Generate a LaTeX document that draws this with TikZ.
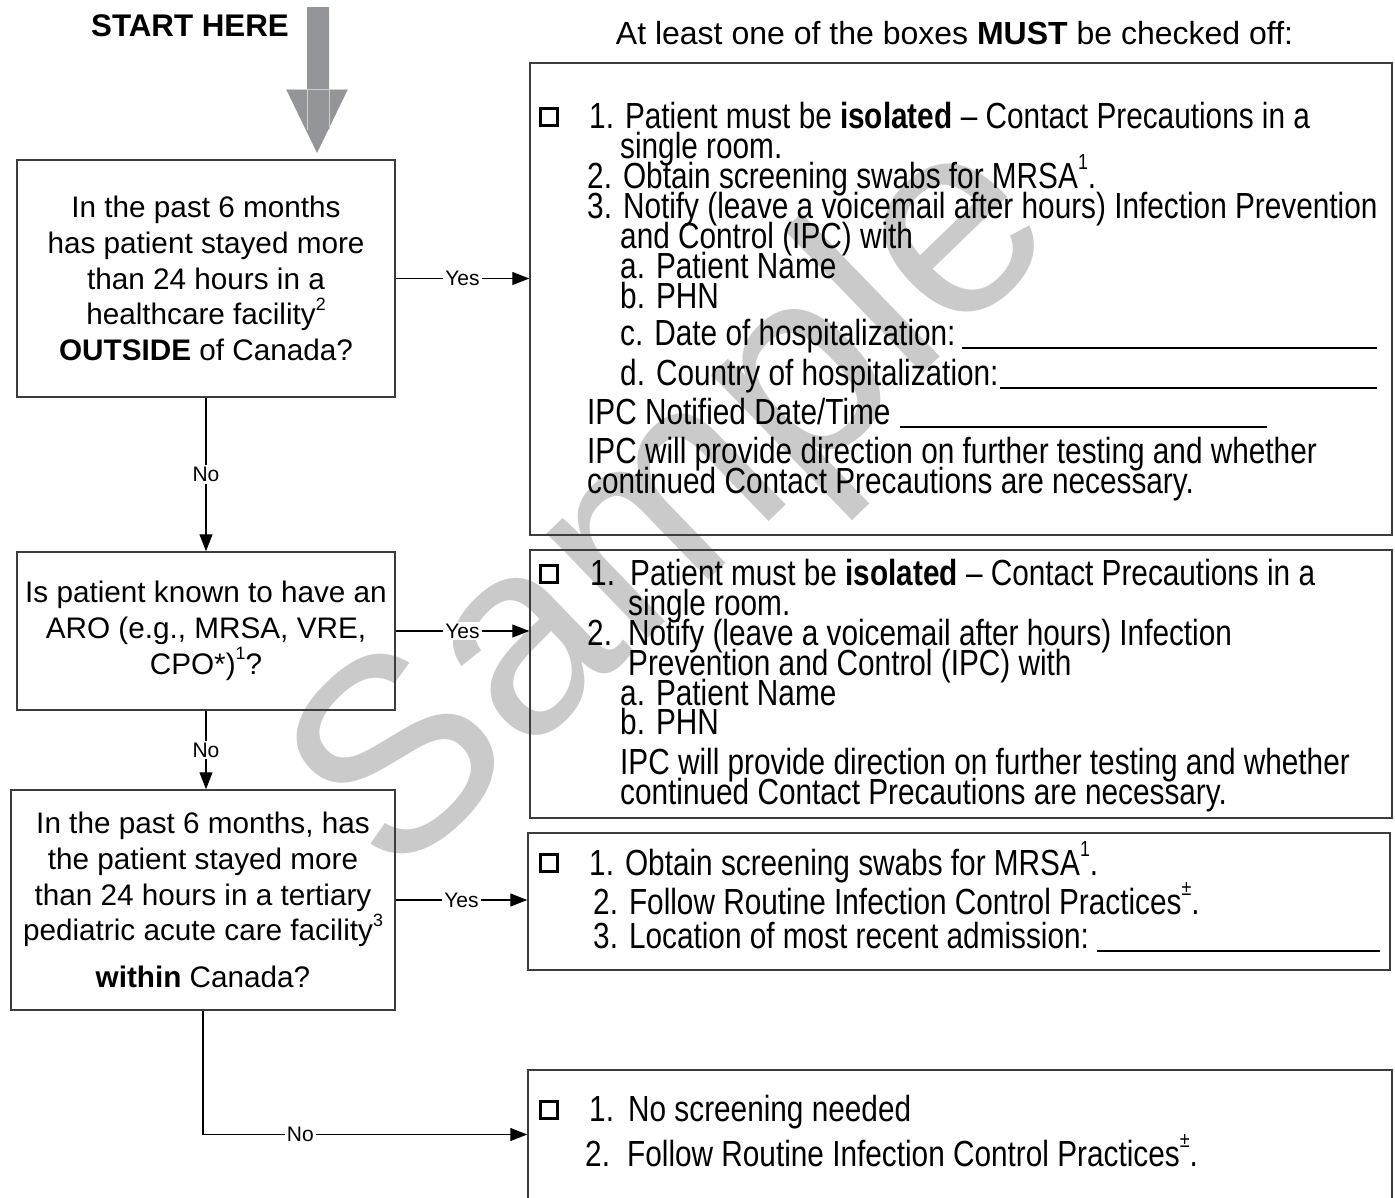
\documentclass[tikz,border=0pt]{standalone}
\usepackage{fontspec}
\usepackage{graphicx}
\setmainfont{Liberation Sans}
\newfontfamily\narrowfont[FakeStretch=0.82]{Liberation Sans}
\usetikzlibrary{arrows.meta}
\definecolor{boxgray}{RGB}{60,60,60}
\definecolor{startgray}{RGB}{147,149,152}
\definecolor{wmgray}{RGB}{202,202,202}
\newcommand{\upsc}[1]{\raisebox{0.5em}{\scalebox{0.6}{#1}}}
\begin{document}
\begin{tikzpicture}[x=1pt,y=-1pt,
  qbox/.style={draw=boxgray, line width=1.5pt, align=center, inner sep=0pt,
    font=\fontsize{29.7}{35.8}\selectfont},
  abox/.style={draw=boxgray, line width=1.5pt, inner sep=0pt},
  conn/.style={draw=black, line width=1.2pt, -{Triangle[length=17pt,width=13pt]}},
  lab/.style={fill=white, inner sep=2pt, font=\fontsize{21}{21}\selectfont},
  txt/.style={anchor=base west, inner sep=0pt, font=\narrowfont\fontsize{36.3}{30}\selectfont},
  chk/.style={draw=black, line width=3pt, minimum width=17pt, minimum height=17pt, inner sep=0pt, outer sep=0pt},
  uline/.style={line width=1.5pt}
]
\useasboundingbox (0,0) rectangle (1395,1197);
\clip (0,0) rectangle (1395,1197);

% watermark
\node[rotate=44, text=wmgray, inner sep=0pt, font=\fontsize{275}{275}\selectfont] (wm) at (679,510) {Sample};

% start
\node[font=\bfseries\fontsize{31.3}{31}\selectfont, inner sep=0pt] (start) at (190,26) {START HERE};
\fill[startgray] (307,7) -- (329,7) -- (329,89) -- (348,89) -- (317,153) -- (286,89) -- (307,89) -- cycle;
\draw[white!55!startgray, line width=0.8pt] (286,89) -- (348,89) (307,89) -- (307,130) (329,89) -- (329,130);

\node[font=\fontsize{32}{32}\selectfont, inner sep=0pt] (hdr) at (954.5,33) {At least one of the boxes \textbf{MUST} be checked off:};

% question boxes
\node[qbox, minimum width=378pt, minimum height=237pt] (q1) at (206,278.5)
  {In the past 6 months\\has patient stayed more\\than 24 hours in a\\healthcare facility\upsc{2}\\\textbf{OUTSIDE} of Canada?};
\node[qbox, minimum width=378pt, minimum height=158pt] (q2) at (206,631)
  {Is patient known to have an\\ARO (e.g., MRSA, VRE,\\CPO*)\upsc{1}?};
\node[qbox, minimum width=384pt, minimum height=220pt] (q3) at (203,900)
  {In the past 6 months, has\\the patient stayed more\\than 24 hours in a tertiary\\pediatric acute care facility\upsc{3}\\[11pt]\textbf{within} Canada?};

% answer boxes
\node[abox, minimum width=862pt, minimum height=472pt] (A) at (961,299) {};
\node[abox, minimum width=862pt, minimum height=268pt] (B) at (961,684) {};
\node[abox, minimum width=862pt, minimum height=137pt] (C) at (959,901.5) {};
\node[abox, minimum width=864pt, minimum height=129pt] (D) at (960,1134.5) {};

% connectors
\draw[conn] (q1.east) -- node[lab]{Yes} (q1.east -| A.west);
\draw[conn] (q2.east) -- node[lab]{Yes} (q2.east -| B.west);
\draw[conn] (q3.east) -- node[lab]{Yes} (q3.east -| C.west);
\draw[conn] (q1.south) -- node[lab]{No} (q2.north);
\draw[conn] (q2.south) -- node[lab]{No} (q2.south |- q3.north);
\draw[conn] (q3.south) |- node[lab,pos=0.65]{No} (D.west);

% box A text
\node[chk] (cA) at (548.5,116.5) {};
\node[txt] (a1) at (589,128) {1. Patient must be \textbf{isolated} – Contact Precautions in a};
\node[txt] (a2) at (620,158) {single room.};
\node[txt] (a3) at (587,188) {2. Obtain screening swabs for MRSA\upsc{1}.};
\node[txt] (a4) at (587,218) {3. Notify (leave a voicemail after hours) Infection Prevention};
\node[txt] (a5) at (620,248) {and Control (IPC) with};
\node[txt] (a6) at (620,278) {a. Patient Name};
\node[txt] (a7) at (620,308) {b. PHN};
\node[txt] (a8) at (620,345) {c. Date of hospitalization:};
\node[txt] (a9) at (620,385) {d. Country of hospitalization:};
\node[txt] (a10) at (587,424) {IPC Notified Date/Time};
\node[txt] (a11) at (587,463) {IPC will provide direction on further testing and whether};
\node[txt] (a12) at (587,493) {continued Contact Precautions are necessary.};
\draw[uline] (962,348) -- (1377,348);
\draw[uline] (1000,388) -- (1377,388);
\draw[uline] (900,427) -- (1267,427);

% box B text
\node[chk] (cB) at (548.5,573.5) {};
\node[txt] (b1n) at (590,585) {1.};
\node[txt] (b1) at (630,585) {Patient must be \textbf{isolated} – Contact Precautions in a};
\node[txt] (b2) at (628,615) {single room.};
\node[txt] (b3n) at (587,645) {2.};
\node[txt] (b3) at (628,645) {Notify (leave a voicemail after hours) Infection};
\node[txt] (b4) at (628,675) {Prevention and Control (IPC) with};
\node[txt] (b5) at (620,705) {a. Patient Name};
\node[txt] (b6) at (620,734) {b. PHN};
\node[txt] (b7) at (620,774) {IPC will provide direction on further testing and whether};
\node[txt] (b8) at (620,804) {continued Contact Precautions are necessary.};

% box C text
\node[chk] (cC) at (548.5,862.5) {};
\node[txt] (c1) at (589,875) {1. Obtain screening swabs for MRSA\upsc{1}.};
\node[txt] (c2) at (593,914) {2. Follow Routine Infection Control Practices\upsc{±}.};
\node[txt] (c3) at (593,948) {3. Location of most recent admission:};
\draw[uline] (1097,951) -- (1380,951);

% box D text
\node[chk] (cD) at (548.5,1109.5) {};
\node[txt] (d1n) at (589,1121) {1.};
\node[txt] (d1) at (628,1121) {No screening needed};
\node[txt] (d2n) at (585,1166) {2.};
\node[txt] (d2) at (627,1166) {Follow Routine Infection Control Practices\upsc{±}.};
\end{tikzpicture}
\end{document}
